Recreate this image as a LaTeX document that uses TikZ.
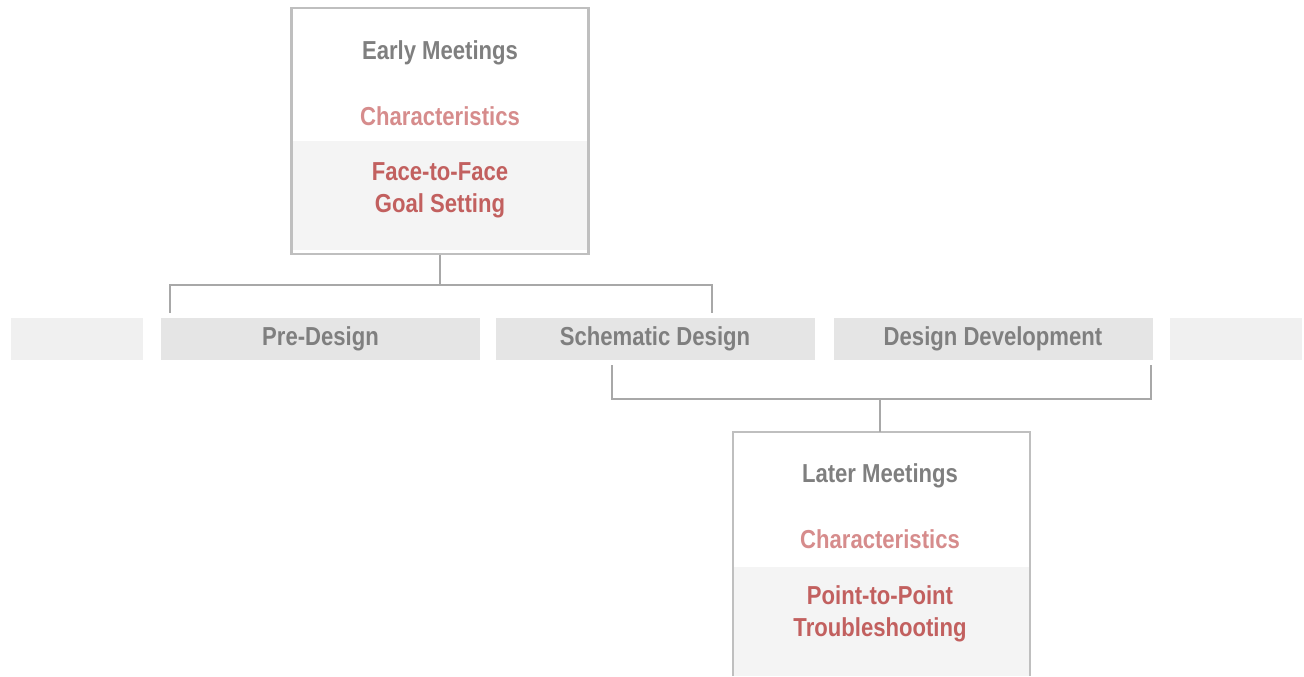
\documentclass[tikz,border=0pt]{standalone}
\usepackage{fontspec}
\setmainfont{Liberation Sans}[FakeStretch=0.85]
\definecolor{txtgray}{HTML}{7F7F7F}
\definecolor{lightred}{HTML}{D68C8C}
\definecolor{darkred}{HTML}{C2605F}
\definecolor{framegray}{HTML}{BFBFBF}
\definecolor{linkgray}{HTML}{A8A8A8}
\definecolor{panelgray}{HTML}{F4F4F4}
\definecolor{bargray}{HTML}{E5E5E5}
\definecolor{palegray}{HTML}{F0F0F0}
\begin{document}
\begin{tikzpicture}[x=0.5pt, y=-0.5pt,
    txt/.style={font=\fontsize{13}{16}\selectfont\bfseries, align=center, inner sep=0pt},
    head/.style={txt, text=txtgray},
    chars/.style={txt, text=lightred},
    keyword/.style={txt, text=darkred},
    phase/.style={txt, text=txtgray, fill=bargray, minimum width=159.5pt, minimum height=21pt},
    pad/.style={fill=palegray, minimum width=66pt, minimum height=21pt, inner sep=0pt},
    frame/.style={draw=framegray, line width=1.4pt},
    link/.style={draw=linkgray, line width=1.3pt}]
  \useasboundingbox (0,0) rectangle (1304,676);
  % early meetings box
  \fill[panelgray] (291,141) rectangle (588,250);
  \node (early) [frame, minimum width=148.5pt, minimum height=123pt, inner sep=0pt]
              at (440,131) {};
  \node (early_t) [head] at (440,53) {Early Meetings};
  \node (early_c) [chars] at (440,116) {Characteristics};
  \node (early_k) [keyword] at (440,190) {Face-to-Face\\Goal Setting};
  % phases
  \node (pad_l) [pad] at (77,339) {};
  \node (pre) [phase] at (320.5,339) {Pre-Design};
  \node (sd) [phase] at (655,339) {\raisebox{-2pt}{Schematic Design}};
  \node (dd) [phase] at (993,339) {Design Development};
  \node (pad_r) [pad] at (1235.5,339) {};
  % later meetings box
  \fill[panelgray] (733,567) rectangle (1030,676);
  \draw[frame] (733,676) |- (1030,432) -- (1030,676);
  \coordinate (later_top) at (880,432);
  \node (later_t) [head] at (880,476) {Later Meetings};
  \node (later_c) [chars] at (880,539) {Characteristics};
  \node (later_k) [keyword] at (880,614) {Point-to-Point\\Troubleshooting};
  % connectors
  \coordinate (split) at (early.south |- 0,285);
  \coordinate (pre_in) at (170,313);
  \coordinate (sd_in) at (712,313);
  \draw[link] (early.south) -- (split);
  \draw[link] (pre_in) |- (sd_in |- split) -- (sd_in);
  \coordinate (sd_out) at (612,365);
  \coordinate (dd_out) at (1151,365);
  \coordinate (join) at (880,399);
  \draw[link] (sd_out) |- (join) -| (dd_out);
  \draw[link] (join) -- (later_top);
\end{tikzpicture}
\end{document}
